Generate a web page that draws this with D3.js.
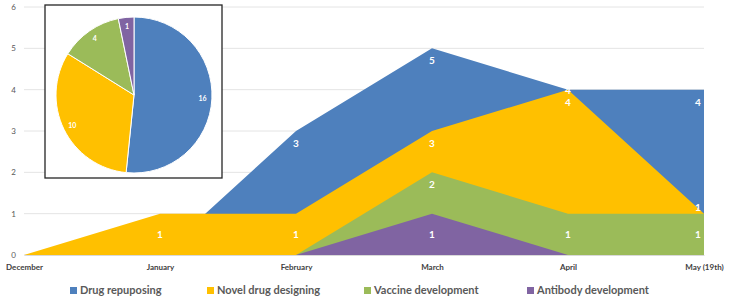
<!DOCTYPE html>
<meta charset="utf-8">
<html>
<head>
<script src="https://d3js.org/d3.v7.min.js"></script>
<style>
  body { margin: 0; background: #fff; }
  text { font-family: Lato, "Liberation Sans", sans-serif; }
</style>
</head>
<body>
<div id="chart"></div>
<script>
    // data
    const months = ["December", "January", "February", "March", "April", "May (19th)"];
    const seriesNames = ["Drug repuposing", "Novel drug designing", "Vaccine development", "Antibody development"];
    const drugRepurposing = [0, 0, 3, 5, 4, 4];
    const novelDrug = [0, 1, 1, 3, 4, 1];
    const vaccine = [0, 0, 0, 2, 1, 1];
    const antibody = [0, 0, 0, 1, 0, 0];
    const totals = [16, 10, 4, 1];
    const yTicks = [0, 1, 2, 3, 4, 5, 6];

    const colors = ["#4e80bd", "#ffc000", "#9bbb59", "#8064a2"];
    const allSeries = [drugRepurposing, novelDrug, vaccine, antibody];

    const W = 729, H = 304;
    const svg = d3.select("#chart").append("svg")
        .attr("width", W).attr("height", H);

    // scales
    const x = d3.scalePoint().domain(months).range([24, 704]);
    const y = d3.scaleLinear().domain([0, 6]).range([255, 7]);

    // gridlines
    svg.append("g")
        .selectAll("line")
        .data(yTicks)
        .join("line")
        .attr("x1", 24).attr("x2", 704)
        .attr("y1", d => y(d)).attr("y2", d => y(d))
        .attr("stroke", "#e4e4e4").attr("stroke-width", 1);

    // y axis labels
    const yAxis = svg.append("g")
        .attr("transform", "translate(16,0)")
        .call(d3.axisLeft(y).tickValues(yTicks).tickFormat(d3.format("d")).tickSize(0).tickPadding(0));
    yAxis.select(".domain").remove();
    yAxis.selectAll("text").attr("fill", "#595959").style("font-size", "8px");

    // areas (overlapping, first series at the back)
    const area = d3.area()
        .x((d, i) => x(months[i]))
        .y0(y(0))
        .y1(d => y(d));

    allSeries.forEach((s, k) => {
        svg.append("path")
            .datum(s)
            .attr("d", area)
            .attr("fill", colors[k]);
    });

    // x axis
    const xAxis = svg.append("g")
        .attr("transform", `translate(0,${y(0)})`)
        .call(d3.axisBottom(x).tickSize(0).tickPadding(9));
    xAxis.select(".domain").attr("stroke", "#d9d9d9");
    xAxis.selectAll("text")
        .attr("fill", "#404040")
        .style("font-size", "8px")
        .style("font-weight", "bold");

    // data labels
    allSeries.forEach((s, k) => {
        s.forEach((v, i) => {
            if (v === 0) return;
            const below = allSeries.slice(k + 1).some(o => o[i] === v);
            let ly;
            if (below) ly = y(v) + (v > 1 ? 4 : -3);
            else if (v <= 1) ly = y(v / 2) + 4;
            else ly = y(v) + 16;
            const last = i === months.length - 1;
            svg.append("text")
                .attr("x", x(months[i]) - (last ? 6 : 0))
                .attr("y", ly)
                .attr("text-anchor", "middle")
                .attr("fill", "#fff")
                .style("font-size", "10px")
                .style("font-weight", "bold")
                .text(v);
        });
    });

    // pie inset
    svg.append("rect")
        .attr("x", 45).attr("y", 5)
        .attr("width", 177).attr("height", 173)
        .attr("fill", "#fff")
        .attr("stroke", "#262626").attr("stroke-width", 1.3);

    const r = 78;
    const pieG = svg.append("g").attr("transform", "translate(134,95)");
    const pie = d3.pie().sort(null)(totals);
    const arc = d3.arc().innerRadius(0).outerRadius(r);
    const labelArc = d3.arc().innerRadius(r * 0.78).outerRadius(r * 0.98);

    pieG.selectAll("path")
        .data(pie)
        .join("path")
        .attr("d", arc)
        .attr("fill", (d, i) => colors[i])
        .attr("stroke", "#fff")
        .attr("stroke-width", 1);

    pieG.selectAll("text")
        .data(pie)
        .join("text")
        .attr("transform", d => `translate(${labelArc.centroid(d)})`)
        .attr("text-anchor", "middle")
        .attr("dy", "0.35em")
        .attr("fill", "#fff")
        .style("font-size", "7px")
        .style("font-weight", "bold")
        .text(d => d.data);

    // legend
    const legendX = [70, 207, 364, 527];
    const legend = svg.append("g")
        .selectAll("g")
        .data(seriesNames)
        .join("g")
        .attr("transform", (d, i) => `translate(${legendX[i]},293)`);

    legend.append("rect")
        .attr("x", 0).attr("y", -6)
        .attr("width", 7).attr("height", 7)
        .attr("fill", (d, i) => colors[i]);

    legend.append("text")
        .attr("x", 10).attr("y", 1)
        .attr("fill", "#595959")
        .style("font-size", "11px")
        .style("font-weight", "bold")
        .text(d => d);
</script>
</body>
</html>
